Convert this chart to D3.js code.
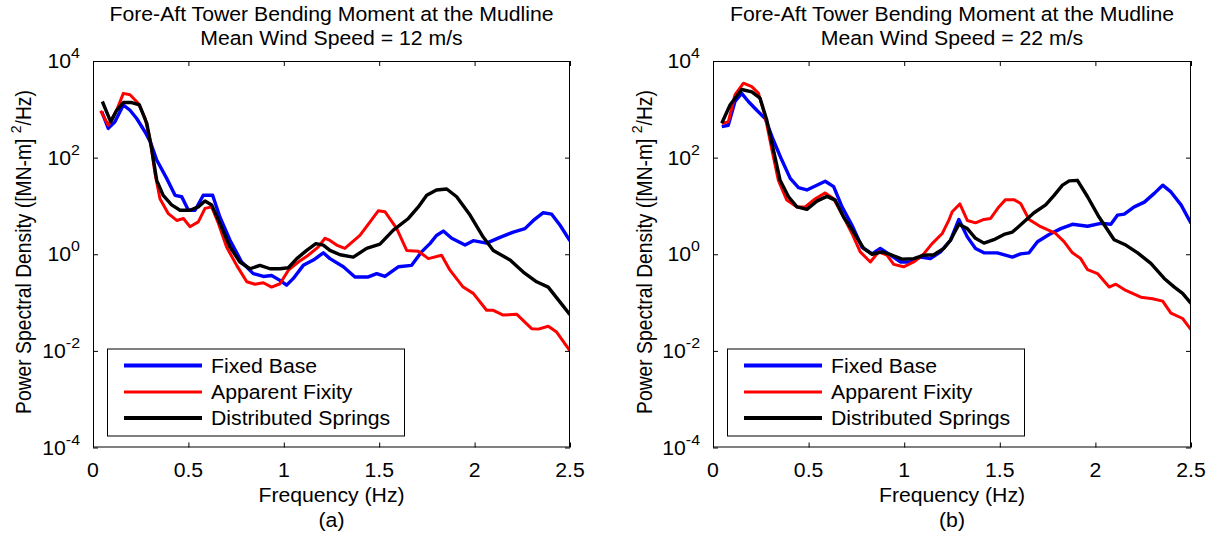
<!DOCTYPE html>
<html><head><meta charset="utf-8">
<script src="https://cdn.jsdelivr.net/npm/d3@7"></script>
<style>body{margin:0;background:#fff}svg{display:block}</style>
</head><body>
<svg id="chart" width="1212" height="537"></svg>
<script>
// ---------------- data ----------------
const seriesNames = ["Fixed Base", "Apparent Fixity", "Distributed Springs"];
const seriesColors = ["#0000ff", "#ff0000", "#000000"];
const xTicks = [0, 0.5, 1, 1.5, 2, 2.5];
const xTickLabels = ["0", "0.5", "1", "1.5", "2", "2.5"];
const yTicks = [1e-4, 1e-2, 1, 1e2, 1e4];
const yTickExponents = ["-4", "-2", "0", "2", "4"];
const panelTitles = ["Fore-Aft Tower Bending Moment at the Mudline", "Fore-Aft Tower Bending Moment at the Mudline"];
const panelSubtitles = ["Mean Wind Speed = 12 m/s", "Mean Wind Speed = 22 m/s"];
const panelCaptions = ["(a)", "(b)"];
const xLabel = "Frequency (Hz)";

// Panel (a) 12 m/s
const freqA_fixed = [0.046,0.08,0.115,0.159,0.194,0.229,0.273,0.30,0.334,0.386,0.43,0.465,0.50,0.535,0.578,0.627,0.665,0.718,0.779,0.84,0.893,0.936,0.98,1.015,1.05,1.102,1.155,1.207,1.242,1.312,1.373,1.443,1.487,1.53,1.60,1.67,1.722,1.766,1.80,1.836,1.88,1.95,1.993,2.063,2.133,2.203,2.264,2.308,2.36,2.404,2.448,2.5];
const psdA_fixed = [891,403,550,1230,955,646,339,214,89.1,37.2,16.6,15.5,8.13,8.13,16.6,16.6,5.89,1.95,0.692,0.398,0.347,0.363,0.288,0.229,0.316,0.589,0.759,1.07,0.813,0.550,0.339,0.339,0.398,0.347,0.550,0.589,1.12,1.66,2.45,3.02,2.14,1.55,1.91,1.70,2.24,2.88,3.39,5.01,7.24,6.76,3.98,1.9];

const freqA_apparent = [0.04,0.08,0.124,0.159,0.194,0.238,0.273,0.30,0.325,0.351,0.395,0.439,0.474,0.508,0.552,0.587,0.622,0.657,0.70,0.753,0.806,0.849,0.893,0.936,0.98,1.024,1.076,1.128,1.18,1.216,1.24,1.277,1.32,1.399,1.452,1.495,1.53,1.592,1.644,1.705,1.758,1.827,1.871,1.94,1.993,2.063,2.098,2.15,2.22,2.299,2.334,2.386,2.43,2.5];
const psdA_apparent = [933,468,955,2140,2000,1320,646,229,46.8,14.1,6.92,5.01,5.50,3.72,4.68,8.91,9.55,4.37,1.41,0.589,0.269,0.240,0.257,0.209,0.245,0.468,0.692,0.955,1.41,2.14,1.95,1.55,1.32,2.45,4.68,7.94,7.59,3.39,1.20,1.15,0.813,0.955,0.468,0.209,0.155,0.0692,0.0692,0.0550,0.0575,0.0288,0.0282,0.0324,0.0245,0.0100];

const freqA_springs = [0.049,0.093,0.124,0.159,0.203,0.243,0.282,0.307,0.334,0.368,0.412,0.456,0.508,0.552,0.587,0.622,0.665,0.718,0.77,0.823,0.875,0.928,0.98,1.024,1.068,1.12,1.168,1.207,1.242,1.295,1.364,1.434,1.504,1.574,1.653,1.705,1.749,1.80,1.854,1.906,1.976,2.046,2.098,2.186,2.255,2.325,2.386,2.448,2.5];
const psdA_springs = [1450,550,955,1380,1380,1230,513,155,33.9,16.6,10.5,8.13,8.13,9.55,12.6,10.5,4.37,1.41,0.692,0.501,0.589,0.501,0.501,0.525,0.813,1.20,1.66,1.55,1.20,0.977,0.871,1.32,1.62,3.16,5.50,9.55,16.6,21.4,22.4,15.5,6.46,2.24,1.20,0.759,0.427,0.269,0.209,0.102,0.0562];

// Panel (b) 22 m/s
const freqB_fixed = [0.046,0.08,0.115,0.15,0.185,0.229,0.273,0.316,0.36,0.404,0.447,0.491,0.543,0.587,0.631,0.675,0.727,0.779,0.832,0.875,0.919,0.98,1.032,1.085,1.137,1.19,1.242,1.286,1.33,1.373,1.417,1.487,1.566,1.609,1.653,1.697,1.758,1.819,1.88,1.959,2.028,2.081,2.116,2.151,2.203,2.256,2.308,2.352,2.395,2.448,2.5];
const psdB_fixed = [437,468,1450,2140,1450,955,646,229,89.1,37.2,24.0,21.4,26.9,32.4,25.1,9.55,3.98,1.41,1.02,1.32,1.02,0.692,0.692,0.871,0.813,1.12,1.95,5.25,2.29,1.32,1.07,1.07,0.871,1.02,1.07,1.82,2.57,3.39,4.17,3.80,4.37,4.17,6.46,6.76,9.55,12.0,18.2,26.9,19.5,10.5,4.37];

const freqB_apparent = [0.046,0.08,0.115,0.159,0.203,0.238,0.273,0.308,0.342,0.386,0.439,0.482,0.535,0.587,0.631,0.683,0.727,0.77,0.823,0.866,0.91,0.945,0.997,1.05,1.102,1.146,1.199,1.233,1.251,1.291,1.33,1.373,1.417,1.452,1.495,1.53,1.574,1.609,1.653,1.714,1.792,1.836,1.88,1.923,1.959,2.011,2.072,2.107,2.159,2.238,2.299,2.352,2.395,2.456,2.5];
const psdB_apparent = [513,550,2000,3470,2950,2140,708,145,33.9,13.2,9.55,9.55,14.1,18.6,14.1,5.89,2.69,1.12,0.692,1.12,0.955,0.617,0.550,0.692,1.02,1.66,2.69,5.01,7.59,11.0,5.01,4.47,5.25,5.50,9.55,13.5,13.5,11.2,5.25,3.72,2.69,1.82,1.07,0.813,0.479,0.398,0.209,0.240,0.178,0.129,0.120,0.107,0.0603,0.0468,0.0275];

const freqB_springs = [0.046,0.089,0.15,0.203,0.246,0.281,0.316,0.351,0.395,0.439,0.491,0.543,0.596,0.639,0.683,0.735,0.788,0.832,0.884,0.937,0.989,1.05,1.102,1.155,1.207,1.242,1.286,1.33,1.373,1.417,1.469,1.522,1.566,1.618,1.679,1.74,1.784,1.828,1.863,1.906,1.959,2.019,2.098,2.159,2.221,2.29,2.36,2.413,2.456,2.5];
const psdB_springs = [513,1230,2570,2290,1700,603,145,33.9,15.5,9.55,8.51,12.6,15.8,13.2,5.89,2.88,1.32,1.00,1.12,0.955,0.794,0.813,0.955,0.977,1.32,1.95,4.17,3.39,2.14,1.70,2.00,2.57,2.88,4.37,7.24,10.5,16.6,26.9,33.1,33.9,15.5,5.89,2.00,1.55,1.07,0.646,0.316,0.209,0.155,0.0955];

// ---------------- drawing ----------------
const FONT = "'Liberation Sans', Arial, Helvetica, sans-serif";
const SX = 1.1; // horizontal stretch of the original figure
const FS = 19.3;
const svg = d3.select("#chart").attr("font-family", FONT);

function stext(parent, x, y, str, anchor, size) {
  return parent.append("text")
    .attr("transform", `translate(${x},${y}) scale(${SX},1)`)
    .attr("text-anchor", anchor)
    .attr("font-size", size)
    .attr("fill", "#000")
    .text(str);
}

const panels = [
  { x0: 93, x1: 570, ylabX: 31,
    series: [[freqA_fixed, psdA_fixed], [freqA_apparent, psdA_apparent], [freqA_springs, psdA_springs]] },
  { x0: 713, x1: 1191, ylabX: 652,
    series: [[freqB_fixed, psdB_fixed], [freqB_apparent, psdB_apparent], [freqB_springs, psdB_springs]] }
];
const yTop = 61, yBot = 447.5;
const seriesWidths = [3.4, 3.0, 3.4];
const legendWidths = [4, 3, 4];

panels.forEach((p, pi) => {
  const x = d3.scaleLinear().domain([0, 2.5]).range([p.x0, p.x1]);
  const y = d3.scaleLog().domain([1e-4, 1e4]).range([yBot, yTop]);
  const g = svg.append("g");
  const cx = (p.x0 + p.x1) / 2;

  const clipId = "clip" + pi;
  svg.append("defs").append("clipPath").attr("id", clipId)
    .append("rect").attr("x", p.x0).attr("y", yTop).attr("width", p.x1 - p.x0).attr("height", yBot - yTop);

  const line = d3.line().x((d) => x(d[0])).y((d) => y(d[1])).curve(d3.curveLinear);
  const lg = g.append("g").attr("clip-path", `url(#${clipId})`);
  p.series.forEach(([fs, ps], si) => {
    const pts = fs.map((f, k) => [f, ps[k]]);
    lg.append("path").datum(pts)
      .attr("d", line)
      .attr("fill", "none")
      .attr("stroke", seriesColors[si])
      .attr("stroke-width", seriesWidths[si])
      .attr("stroke-linejoin", "round")
      .attr("stroke-linecap", "butt");
  });

  const styleAxis = (sel) => {
    sel.select(".domain").remove();
    sel.selectAll(".tick line").attr("stroke", "#000").attr("stroke-width", 1);
    sel.selectAll(".tick text").remove();
  };
  g.append("g").attr("transform", `translate(0,${yBot})`)
    .call(d3.axisBottom(x).tickValues(xTicks).tickSize(-5).tickFormat(() => "")).call(styleAxis);
  g.append("g").attr("transform", `translate(0,${yTop})`)
    .call(d3.axisTop(x).tickValues(xTicks).tickSize(-5).tickFormat(() => "")).call(styleAxis);
  g.append("g").attr("transform", `translate(${p.x0},0)`)
    .call(d3.axisLeft(y).tickValues(yTicks).tickSize(-5).tickFormat(() => "")).call(styleAxis);
  g.append("g").attr("transform", `translate(${p.x1},0)`)
    .call(d3.axisRight(y).tickValues(yTicks).tickSize(-5).tickFormat(() => "")).call(styleAxis);

  g.append("rect").attr("x", p.x0 + 0.5).attr("y", yTop + 0.5)
    .attr("width", p.x1 - p.x0 - 1).attr("height", yBot - yTop - 1)
    .attr("fill", "none").attr("stroke", "#000").attr("stroke-width", 1);

  xTicks.forEach((t, k) => stext(g, x(t), 477, xTickLabels[k], "middle", FS));

  yTicks.forEach((t, k) => {
    const tx = g.append("text")
      .attr("transform", `translate(${p.x0 - 13},${y(t) + 7}) scale(${SX},1)`)
      .attr("text-anchor", "end").attr("font-size", FS).attr("fill", "#000");
    tx.append("tspan").text("10");
    tx.append("tspan").attr("font-size", 14.5).attr("dy", -10).text(yTickExponents[k]);
  });

  stext(g, cx, 20.7, panelTitles[pi], "middle", FS);
  stext(g, cx, 45, panelSubtitles[pi], "middle", FS);

  stext(g, cx, 502, xLabel, "middle", FS);
  stext(g, cx, 527, panelCaptions[pi], "middle", FS);

  const yl = g.append("text")
    .attr("transform", `translate(${p.ylabX},${252}) scale(${SX},1) rotate(-90)`)
    .attr("text-anchor", "middle").attr("font-size", FS).attr("fill", "#000");
  yl.append("tspan").text("Power Spectral Density ([MN-m] ");
  yl.append("tspan").attr("font-size", 14).attr("dy", -9).text("2");
  yl.append("tspan").attr("dy", 9).text("/Hz)");

  const lx = p.x0 + 14, ly = 348.5, lw = 297, lh = 87;
  const leg = g.append("g");
  leg.append("rect").attr("x", lx + 0.5).attr("y", ly + 0.5).attr("width", lw).attr("height", lh)
    .attr("fill", "#fff").attr("stroke", "#000").attr("stroke-width", 1);
  const rows = [365.5, 392, 418];
  seriesNames.forEach((name, si) => {
    leg.append("line").attr("x1", lx + 17).attr("x2", lx + 95)
      .attr("y1", rows[si]).attr("y2", rows[si])
      .attr("stroke", seriesColors[si]).attr("stroke-width", legendWidths[si]);
    stext(leg, lx + 104, rows[si] + 7, name, "start", FS);
  });
});
</script>
</body></html>
